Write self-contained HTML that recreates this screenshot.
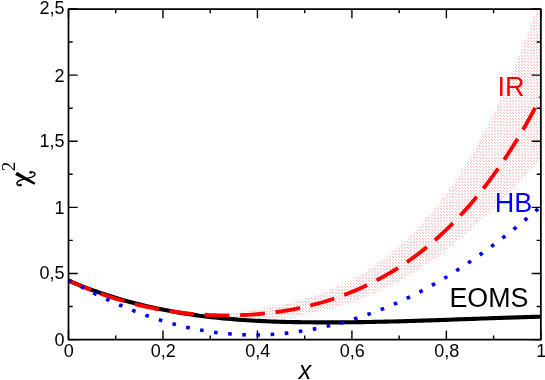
<!DOCTYPE html>
<html><head><meta charset="utf-8"><title>chi2</title>
<style>
html,body{margin:0;padding:0;background:#fff;}
body{width:545px;height:380px;overflow:hidden;}
svg{display:block;will-change:transform;}
text{font-family:"Liberation Sans",sans-serif;}
</style></head><body>
<svg width="545" height="380" viewBox="0 0 545 380">
<defs>
<pattern id="stip" x="2" y="1" width="3" height="3" patternUnits="userSpaceOnUse">
<rect x="0" y="0" width="1" height="1" fill="#ff0000" fill-opacity="0.27"/>
<rect x="1" y="1" width="1" height="1" fill="#ff0000" fill-opacity="0.27"/>
</pattern>
<clipPath id="clip"><rect x="68.5" y="9.0" width="472.35" height="330.6"/></clipPath>
</defs>
<rect width="545" height="380" fill="#fff"/>
<g clip-path="url(#clip)">
<path d="M229.00,314.18 L232.16,313.69 L235.31,313.20 L238.47,312.71 L241.63,312.21 L244.78,311.71 L247.94,311.20 L251.10,310.68 L254.25,310.16 L257.41,309.62 L260.57,309.06 L263.72,308.49 L266.88,307.90 L270.04,307.30 L273.19,306.67 L276.35,306.02 L279.51,305.35 L282.66,304.65 L285.82,303.93 L288.97,303.18 L292.13,302.39 L295.29,301.58 L298.44,300.73 L301.60,299.84 L304.76,298.92 L307.91,297.96 L311.07,296.97 L314.23,295.92 L317.38,294.84 L320.54,293.71 L323.70,292.53 L326.85,291.31 L330.01,290.04 L333.17,288.71 L336.32,287.33 L339.48,285.90 L342.64,284.41 L345.79,282.86 L348.95,281.25 L352.11,279.58 L355.26,277.85 L358.42,276.05 L361.58,274.19 L364.73,272.26 L367.89,270.26 L371.05,268.19 L374.20,266.05 L377.36,263.83 L380.52,261.53 L383.67,259.16 L386.83,256.71 L389.98,254.18 L393.14,251.56 L396.30,248.86 L399.45,246.08 L402.61,243.20 L405.77,240.24 L408.92,237.19 L412.08,234.05 L415.24,230.81 L418.39,227.47 L421.55,224.04 L424.71,220.51 L427.86,216.88 L431.02,213.15 L434.18,209.31 L437.33,205.37 L440.49,201.32 L443.65,197.16 L446.80,192.89 L449.96,188.51 L453.12,184.01 L456.27,179.38 L459.43,174.64 L462.59,169.76 L465.74,164.75 L468.90,159.60 L472.06,154.32 L475.21,148.88 L478.37,143.30 L481.53,137.57 L484.68,131.68 L487.84,125.63 L490.99,119.41 L494.15,113.03 L497.31,106.47 L500.46,99.74 L503.62,92.83 L506.78,85.73 L509.93,78.45 L513.09,70.97 L516.25,63.30 L519.40,55.43 L522.56,47.36 L525.72,39.08 L528.87,30.58 L532.03,21.87 L535.19,12.95 L538.34,3.80 L541.50,-5.58 L541.50,157.86 L538.34,161.42 L535.19,164.96 L532.03,168.46 L528.87,171.94 L525.72,175.38 L522.56,178.79 L519.40,182.17 L516.25,185.51 L513.09,188.83 L509.93,192.10 L506.78,195.35 L503.62,198.55 L500.46,201.72 L497.31,204.86 L494.15,207.96 L490.99,211.02 L487.84,214.04 L484.68,217.02 L481.53,219.96 L478.37,222.87 L475.21,225.73 L472.06,228.55 L468.90,231.33 L465.74,234.06 L462.59,236.76 L459.43,239.41 L456.27,242.01 L453.12,244.57 L449.96,247.09 L446.80,249.55 L443.65,251.98 L440.49,254.35 L437.33,256.68 L434.18,258.96 L431.02,261.19 L427.86,263.37 L424.71,265.51 L421.55,267.60 L418.39,269.64 L415.24,271.63 L412.08,273.58 L408.92,275.49 L405.77,277.34 L402.61,279.15 L399.45,280.92 L396.30,282.64 L393.14,284.32 L389.98,285.95 L386.83,287.54 L383.67,289.08 L380.52,290.58 L377.36,292.04 L374.20,293.45 L371.05,294.83 L367.89,296.15 L364.73,297.44 L361.58,298.68 L358.42,299.89 L355.26,301.05 L352.11,302.17 L348.95,303.24 L345.79,304.28 L342.64,305.28 L339.48,306.24 L336.32,307.15 L333.17,308.03 L330.01,308.87 L326.85,309.66 L323.70,310.42 L320.54,311.15 L317.38,311.83 L314.23,312.47 L311.07,313.08 L307.91,313.65 L304.76,314.18 L301.60,314.67 L298.44,315.13 L295.29,315.55 L292.13,315.94 L288.97,316.29 L285.82,316.60 L282.66,316.88 L279.51,317.12 L276.35,317.33 L273.19,317.50 L270.04,317.64 L266.88,317.74 L263.72,317.81 L260.57,317.85 L257.41,317.85 L254.25,317.82 L251.10,317.76 L247.94,317.66 L244.78,317.54 L241.63,317.38 L238.47,317.18 L235.31,316.96 L232.16,316.71 L229.00,316.42 Z" fill="url(#stip)"/>
<path d="M68.50,280.58 L72.47,282.27 L76.44,283.92 L80.41,285.53 L84.38,287.08 L88.35,288.60 L92.32,290.07 L96.29,291.50 L100.25,292.89 L104.22,294.23 L108.19,295.53 L112.16,296.80 L116.13,298.02 L120.10,299.21 L124.07,300.35 L128.04,301.46 L132.01,302.53 L135.98,303.57 L139.95,304.57 L143.92,305.53 L147.89,306.46 L151.86,307.36 L155.83,308.22 L159.79,309.05 L163.76,309.84 L167.73,310.61 L171.70,311.34 L175.67,312.05 L179.64,312.72 L183.61,313.36 L187.58,313.98 L191.55,314.57 L195.52,315.13 L199.49,315.66 L203.46,316.17 L207.43,316.66 L211.40,317.11 L215.37,317.55 L219.33,317.96 L223.30,318.35 L227.27,318.71 L231.24,319.05 L235.21,319.38 L239.18,319.68 L243.15,319.96 L247.12,320.22 L251.09,320.47 L255.06,320.69 L259.03,320.90 L263.00,321.09 L266.97,321.27 L270.94,321.43 L274.91,321.58 L278.87,321.71 L282.84,321.83 L286.81,321.93 L290.78,322.02 L294.75,322.10 L298.72,322.17 L302.69,322.23 L306.66,322.28 L310.63,322.32 L314.60,322.35 L318.57,322.37 L322.54,322.38 L326.51,322.39 L330.48,322.39 L334.44,322.38 L338.41,322.36 L342.38,322.33 L346.35,322.30 L350.32,322.26 L354.29,322.21 L358.26,322.16 L362.23,322.10 L366.20,322.04 L370.17,321.97 L374.14,321.89 L378.11,321.81 L382.08,321.72 L386.05,321.63 L390.02,321.53 L393.98,321.43 L397.95,321.33 L401.92,321.22 L405.89,321.11 L409.86,320.99 L413.83,320.87 L417.80,320.75 L421.77,320.63 L425.74,320.50 L429.71,320.37 L433.68,320.24 L437.65,320.10 L441.62,319.97 L445.59,319.83 L449.56,319.69 L453.52,319.55 L457.49,319.41 L461.46,319.27 L465.43,319.13 L469.40,318.99 L473.37,318.85 L477.34,318.71 L481.31,318.57 L485.28,318.43 L489.25,318.29 L493.22,318.15 L497.19,318.01 L501.16,317.88 L505.13,317.75 L509.10,317.62 L513.06,317.49 L517.03,317.36 L521.00,317.24 L524.97,317.12 L528.94,317.01 L532.91,316.89 L536.88,316.78 L540.85,316.68" fill="none" stroke="#000" stroke-width="4.1"/>
<path d="M68.50,280.52 L72.47,282.32 L76.44,284.07 L80.41,285.77 L84.38,287.42 L88.35,289.01 L92.32,290.56 L96.29,292.06 L100.25,293.51 L104.22,294.91 L108.19,296.26 L112.16,297.56 L116.13,298.81 L120.10,300.02 L124.07,301.17 L128.04,302.28 L132.01,303.35 L135.98,304.36 L139.95,305.33 L143.92,306.25 L147.89,307.13 L151.86,307.96 L155.83,308.74 L159.79,309.48 L163.76,310.18 L167.73,310.83 L171.70,311.43 L175.67,311.99 L179.64,312.51 L183.61,312.98 L187.58,313.41 L191.55,313.80 L195.52,314.14 L199.49,314.44 L203.46,314.70 L207.43,314.92 L211.40,315.09 L215.37,315.22 L219.33,315.32 L223.30,315.37 L227.27,315.38 L231.24,315.35 L235.21,315.27 L239.18,315.16 L243.15,315.01 L247.12,314.82 L251.09,314.59 L255.06,314.32 L259.03,314.00 L263.00,313.63 L266.97,313.23 L270.94,312.77 L274.91,312.27 L278.87,311.72 L282.84,311.13 L286.81,310.48 L290.78,309.78 L294.75,309.03 L298.72,308.22 L302.69,307.37 L306.66,306.45 L310.63,305.48 L314.60,304.46 L318.57,303.38 L322.54,302.24 L326.51,301.04 L330.48,299.77 L334.44,298.45 L338.41,297.07 L342.38,295.62 L346.35,294.11 L350.32,292.53 L354.29,290.88 L358.26,289.17 L362.23,287.39 L366.20,285.54 L370.17,283.62 L374.14,281.63 L378.11,279.56 L382.08,277.42 L386.05,275.19 L390.02,272.89 L393.98,270.49 L397.95,268.01 L401.92,265.44 L405.89,262.78 L409.86,260.02 L413.83,257.16 L417.80,254.20 L421.77,251.14 L425.74,247.97 L429.71,244.70 L433.68,241.31 L437.65,237.81 L441.62,234.19 L445.59,230.46 L449.56,226.60 L453.52,222.62 L457.49,218.52 L461.46,214.28 L465.43,209.91 L469.40,205.41 L473.37,200.78 L477.34,196.00 L481.31,191.08 L485.28,186.02 L489.25,180.80 L493.22,175.43 L497.19,169.89 L501.16,164.19 L505.13,158.33 L509.10,152.28 L513.06,146.06 L517.03,139.66 L521.00,133.07 L524.97,126.28 L528.94,119.30 L532.91,112.12 L536.88,104.73 L540.85,97.13" fill="none" stroke="#ff0000" stroke-width="3.85" stroke-dasharray="24.9 10.6" stroke-dashoffset="0.8"/>
<path d="M68.50,279.91 L72.47,282.08 L76.44,284.22 L80.41,286.33 L84.38,288.39 L88.35,290.42 L92.32,292.42 L96.29,294.37 L100.25,296.28 L104.22,298.16 L108.19,299.99 L112.16,301.79 L116.13,303.54 L120.10,305.25 L124.07,306.92 L128.04,308.55 L132.01,310.13 L135.98,311.67 L139.95,313.17 L143.92,314.62 L147.89,316.02 L151.86,317.38 L155.83,318.69 L159.79,319.95 L163.76,321.17 L167.73,322.34 L171.70,323.46 L175.67,324.53 L179.64,325.55 L183.61,326.52 L187.58,327.43 L191.55,328.30 L195.52,329.12 L199.49,329.88 L203.46,330.59 L207.43,331.25 L211.40,331.85 L215.37,332.41 L219.33,332.90 L223.30,333.35 L227.27,333.74 L231.24,334.08 L235.21,334.37 L239.18,334.60 L243.15,334.77 L247.12,334.90 L251.09,334.96 L255.06,334.97 L259.03,334.93 L263.00,334.83 L266.97,334.68 L270.94,334.47 L274.91,334.22 L278.87,333.90 L282.84,333.54 L286.81,333.13 L290.78,332.66 L294.75,332.15 L298.72,331.59 L302.69,330.98 L306.66,330.33 L310.63,329.63 L314.60,328.88 L318.57,328.09 L322.54,327.25 L326.51,326.37 L330.48,325.45 L334.44,324.47 L338.41,323.46 L342.38,322.39 L346.35,321.28 L350.32,320.12 L354.29,318.92 L358.26,317.66 L362.23,316.36 L366.20,315.01 L370.17,313.62 L374.14,312.17 L378.11,310.68 L382.08,309.13 L386.05,307.54 L390.02,305.89 L393.98,304.20 L397.95,302.45 L401.92,300.65 L405.89,298.80 L409.86,296.90 L413.83,294.95 L417.80,292.95 L421.77,290.89 L425.74,288.78 L429.71,286.62 L433.68,284.40 L437.65,282.13 L441.62,279.81 L445.59,277.44 L449.56,275.01 L453.52,272.53 L457.49,270.00 L461.46,267.43 L465.43,264.80 L469.40,262.13 L473.37,259.41 L477.34,256.64 L481.31,253.82 L485.28,250.96 L489.25,248.06 L493.22,245.11 L497.19,242.11 L501.16,239.08 L505.13,236.00 L509.10,232.88 L513.06,229.72 L517.03,226.52 L521.00,223.28 L524.97,220.00 L528.94,216.68 L532.91,213.32 L536.88,209.93 L540.85,206.50" fill="none" stroke="#0000ff" stroke-width="3.6" stroke-dasharray="3.6 10.57" stroke-dashoffset="0.3"/>
</g>
<path d="M68.50,339.6 v-9.2 M68.50,9.0 v9.2 M115.73,339.6 v-4.2 M115.73,9.0 v4.2 M162.97,339.6 v-9.2 M162.97,9.0 v9.2 M210.21,339.6 v-4.2 M210.21,9.0 v4.2 M257.44,339.6 v-9.2 M257.44,9.0 v9.2 M304.68,339.6 v-4.2 M304.68,9.0 v4.2 M351.91,339.6 v-9.2 M351.91,9.0 v9.2 M399.15,339.6 v-4.2 M399.15,9.0 v4.2 M446.38,339.6 v-9.2 M446.38,9.0 v9.2 M493.62,339.6 v-4.2 M493.62,9.0 v4.2 M540.85,339.6 v-9.2 M540.85,9.0 v9.2 M68.5,339.60 h9.2 M540.85,339.60 h-9.2 M68.5,306.54 h4.2 M540.85,306.54 h-4.2 M68.5,273.48 h9.2 M540.85,273.48 h-9.2 M68.5,240.42 h4.2 M540.85,240.42 h-4.2 M68.5,207.36 h9.2 M540.85,207.36 h-9.2 M68.5,174.30 h4.2 M540.85,174.30 h-4.2 M68.5,141.24 h9.2 M540.85,141.24 h-9.2 M68.5,108.18 h4.2 M540.85,108.18 h-4.2 M68.5,75.12 h9.2 M540.85,75.12 h-9.2 M68.5,42.06 h4.2 M540.85,42.06 h-4.2 M68.5,9.00 h9.2 M540.85,9.00 h-9.2" stroke="#000" stroke-width="1.4" fill="none"/>
<rect x="68.5" y="9.0" width="472.35" height="330.6" fill="none" stroke="#000" stroke-width="1.75" stroke-linejoin="round"/>
<g font-size="18" fill="#000">
<text x="68.80" y="357.3" text-anchor="middle">0</text>
<text x="163.27" y="357.3" text-anchor="middle">0,2</text>
<text x="257.74" y="357.3" text-anchor="middle">0,4</text>
<text x="352.21" y="357.3" text-anchor="middle">0,6</text>
<text x="446.68" y="357.3" text-anchor="middle">0,8</text>
<text x="541.15" y="357.3" text-anchor="middle">1</text>
<text x="64.6" y="346.00" text-anchor="end">0</text>
<text x="64.6" y="279.30" text-anchor="end">0,5</text>
<text x="64.6" y="213.70" text-anchor="end">1</text>
<text x="64.6" y="146.80" text-anchor="end">1,5</text>
<text x="64.6" y="81.60" text-anchor="end">2</text>
<text x="64.6" y="13.80" text-anchor="end">2,5</text>
</g>
<text x="449.5" y="306.6" font-size="26.8" fill="#000">EOMS</text>
<text x="494.8" y="211.7" font-size="27" fill="#0000ff">HB</text>
<text x="497.5" y="95.8" font-size="27" fill="#ff0000">IR</text>
<text x="305" y="378.7" font-size="25" text-anchor="middle" font-style="italic" fill="#000">x</text>
<g fill="#000" stroke="none">
<path d="M15.2,174.9 L17.0,171.8 L35.4,182.7 L34.2,184.8 Z"/>
</g>
<path d="M30.2,172.3 C32.8,171.3 35.6,172.8 34.8,174.9 C34.0,176.9 31,177.6 25.3,178.7 C20,179.8 17.4,181 17.0,182.9 C16.7,184.7 18.6,185.9 21.0,185.2" fill="none" stroke="#000" stroke-width="1.5" stroke-linecap="round"/>
<circle cx="30.7" cy="172.5" r="1.3" fill="#000"/>
<circle cx="20.5" cy="185.0" r="1.3" fill="#000"/>
<g transform="translate(14.7,171.3) rotate(-90)">
<text x="0" y="0" font-size="19" style="font-family:'Liberation Serif',serif" fill="#000">2</text>
</g>
</svg>
</body></html>
